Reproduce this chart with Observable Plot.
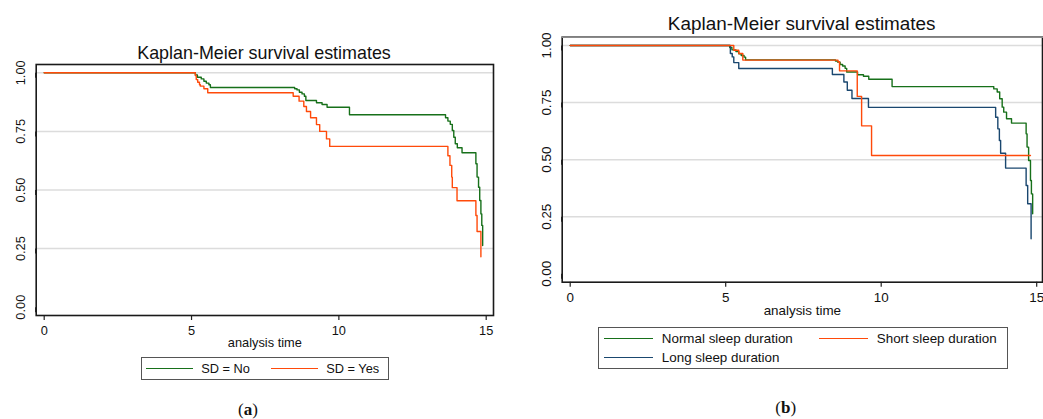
<!DOCTYPE html>
<html><head><meta charset="utf-8">
<script src="https://cdn.jsdelivr.net/npm/d3@7"></script>
<script src="https://cdn.jsdelivr.net/npm/@observablehq/plot@0.6"></script>
<style>
body{margin:0;background:#fff;width:1043px;height:419px;overflow:hidden;position:relative;font-family:"Liberation Sans",Arial,sans-serif;color:#111}
.abs{position:absolute}
.title{white-space:nowrap;transform:translate(-50%,-50%)}
.legend{border:1.5px solid #555;box-sizing:border-box}
.sw{position:absolute;height:0;border-top:1.4px solid}
.lt{position:absolute;white-space:nowrap;transform:translateY(-50%);line-height:1}
.cap{font-family:"Liberation Serif","DejaVu Serif",serif;font-size:17px;transform:translate(-50%,-50%);white-space:nowrap}
</style>
</head><body>
<div id="a" class="abs" style="left:0;top:60px"></div>
<div id="b" class="abs" style="left:520px;top:0"></div>
<div id="ta" class="abs title" style="left:264px;top:53px;font-size:17.9px"></div>
<div id="tb" class="abs title" style="left:801.7px;top:23.5px;font-size:18.9px"></div>
<div id="la" class="abs legend" style="left:140.7px;top:356.7px;width:248px;height:23.5px"></div>
<div id="lb" class="abs legend" style="left:597.7px;top:326.7px;width:410px;height:42.8px"></div>
<div class="abs cap" style="left:248px;top:410px">(<b>a</b>)</div>
<div class="abs cap" style="left:785.7px;top:408px">(<b>b</b>)</div>
<script>
// ---- data ----
const titleText = "Kaplan-Meier survival estimates";
const xLabel = "analysis time";
const xTicks = [0, 5, 10, 15];
const yTicks = [0, 0.25, 0.5, 0.75, 1];
const gridTicks = [0.25, 0.5, 0.75, 1];

// Panel (a)
const seriesA = ["SD = No", "SD = Yes"];
const sdNoTime = [0, 5.13, 5.20, 5.33, 5.42, 5.50, 5.59, 5.64, 8.50, 8.58, 8.66, 8.75, 8.83, 8.88, 9.24, 9.43, 9.60, 10.36, 13.62, 13.70, 13.78, 13.85, 13.90, 13.95, 14.02, 14.18, 14.65, 14.69, 14.74, 14.78, 14.82, 14.85, 14.88];
const sdNoSurv = [1, 0.991, 0.981, 0.974, 0.964, 0.956, 0.949, 0.937, 0.932, 0.927, 0.917, 0.910, 0.900, 0.882, 0.872, 0.865, 0.853, 0.821, 0.808, 0.794, 0.780, 0.754, 0.725, 0.697, 0.680, 0.659, 0.612, 0.555, 0.512, 0.455, 0.398, 0.349, 0.263];
const sdYesTime = [0, 5.13, 5.16, 5.21, 5.27, 5.30, 5.42, 5.55, 8.45, 8.65, 8.81, 8.90, 9.04, 9.24, 9.35, 9.58, 9.69, 13.70, 13.77, 13.83, 13.85, 14.01, 14.65, 14.69, 14.82];
const sdYesSurv = [1, 0.988, 0.971, 0.960, 0.949, 0.943, 0.932, 0.915, 0.900, 0.879, 0.856, 0.835, 0.808, 0.779, 0.750, 0.718, 0.686, 0.646, 0.605, 0.555, 0.510, 0.454, 0.391, 0.323, 0.215];

// Panel (b)
const seriesB = ["Normal sleep duration", "Short sleep duration", "Long sleep duration"];
const normalTime = [0, 5.13, 5.20, 5.33, 5.42, 5.50, 5.59, 5.64, 8.53, 8.60, 8.68, 8.76, 8.84, 8.89, 9.24, 9.43, 9.60, 10.35, 13.62, 13.73, 13.81, 13.89, 13.94, 14.03, 14.19, 14.66, 14.69, 14.74, 14.80, 14.83, 14.87];
const normalSurv = [1, 0.991, 0.981, 0.974, 0.964, 0.956, 0.949, 0.937, 0.932, 0.927, 0.917, 0.910, 0.900, 0.884, 0.872, 0.865, 0.852, 0.820, 0.810, 0.796, 0.767, 0.730, 0.708, 0.679, 0.660, 0.613, 0.555, 0.496, 0.409, 0.350, 0.263];
const shortTime = [0, 5.26, 5.42, 5.55, 8.61, 8.66, 9.23, 9.37, 9.69, 14.80];
const shortSurv = [1, 0.979, 0.965, 0.936, 0.929, 0.889, 0.777, 0.648, 0.518, 0.518];
const longTime = [0, 5.15, 5.21, 5.26, 5.42, 8.43, 8.80, 8.91, 9.06, 9.59, 13.68, 13.75, 13.80, 13.84, 14.00, 14.66, 14.71, 14.82];
const longSurv = [1, 0.965, 0.950, 0.925, 0.899, 0.873, 0.840, 0.804, 0.768, 0.729, 0.686, 0.635, 0.584, 0.528, 0.463, 0.387, 0.307, 0.153];

const colorsA = ["#17701a", "#ff4a0a"];
const colorsB = ["#17701a", "#ff4a0a", "#1a476f"];

const toRows = (ts, ss) => ts.map((t, i) => ({t, s: ss[i]}));

function panel({width, height, mt, mb, ml, mr, insL, insR, insT, insB, fs, lines, topStroke, labelOffset}) {
  return Plot.plot({
    width, height,
    marginTop: mt, marginBottom: mb, marginLeft: ml, marginRight: mr,
    style: {fontFamily: '"Liberation Sans", Arial, sans-serif', fontSize: fs + "px", color: "#111", background: "transparent"},
    x: {domain: [0, 15], insetLeft: insL, insetRight: insR},
    y: {domain: [0, 1], insetTop: insT, insetBottom: insB},
    marks: [
      Plot.gridY(gridTicks, {stroke: "#dcdcdc", strokeOpacity: 1, strokeWidth: 1.5}),
      ...lines.map(l => Plot.line(l.data, {x: "t", y: "s", curve: "step-after", stroke: l.color, strokeWidth: 1.4})),
      Plot.axisX(xTicks, {tickSize: 5, tickPadding: 5, fontSize: fs, label: xLabel, labelAnchor: "center", labelArrow: "none", labelOffset, stroke: "#222", strokeWidth: 1.2}),
      Plot.axisY(yTicks, {tickSize: 5, tickPadding: 10, rotate: -90, textAnchor: "middle", fontSize: fs, tickFormat: d3.format(".2f"), label: null, stroke: "#222", strokeWidth: 1.2}),
      Plot.frame({stroke: "#1a1a1a", strokeWidth: 1.6}),
      ...(topStroke ? [Plot.frame({anchor: "top", stroke: topStroke, strokeWidth: 1.6})] : [])
    ]
  });
}

document.getElementById("a").append(panel({
  width: 520, height: 300, mt: 4, mb: 45, ml: 35.7, mr: 27,
  insL: 8, insR: 7.3, insT: 8.3, insB: 8.3, fs: 12.8, labelOffset: 31,
  lines: [
    {data: toRows(sdNoTime, sdNoSurv), color: colorsA[0]},
    {data: toRows(sdYesTime, sdYesSurv), color: colorsA[1]}
  ]
}));
document.getElementById("b").append(panel({
  width: 523, height: 330, mt: 36.7, mb: 48.3, ml: 41.7, mr: 1,
  insL: 8, insR: 5.8, insT: 8.3, insB: 8.4, fs: 13.4, labelOffset: 33,
  topStroke: "#8a8a8a",
  lines: [
    {data: toRows(normalTime, normalSurv), color: colorsB[0]},
    {data: toRows(longTime, longSurv), color: colorsB[2]},
    {data: toRows(shortTime, shortSurv), color: colorsB[1]}
  ]
}));

document.getElementById("ta").textContent = titleText;
document.getElementById("tb").textContent = titleText;

function legend(el, fs, items) {
  const box = el.getBoundingClientRect();
  for (const it of items) {
    const sw = document.createElement("div");
    sw.className = "sw";
    sw.style.left = (it.x0 - box.left - 1.5) + "px";
    sw.style.width = (it.x1 - it.x0) + "px";
    sw.style.top = (it.y - box.top - 1.5 - 0.7) + "px";
    sw.style.borderColor = it.color;
    el.append(sw);
    const tx = document.createElement("div");
    tx.className = "lt";
    tx.style.left = (it.tx - box.left - 1.5) + "px";
    tx.style.top = (it.y - box.top - 1.5) + "px";
    tx.style.fontSize = fs + "px";
    tx.textContent = it.label;
    el.append(tx);
  }
}
legend(document.getElementById("la"), 12.8, [
  {label: seriesA[0], color: colorsA[0], x0: 146.7, x1: 193.3, tx: 201.7, y: 369},
  {label: seriesA[1], color: colorsA[1], x0: 271.7, x1: 318.3, tx: 326.7, y: 369}
]);
legend(document.getElementById("lb"), 13.4, [
  {label: seriesB[0], color: colorsB[0], x0: 604, x1: 653.3, tx: 662.3, y: 339},
  {label: seriesB[1], color: colorsB[1], x0: 819, x1: 868.3, tx: 877.3, y: 339},
  {label: seriesB[2], color: colorsB[2], x0: 604, x1: 653.3, tx: 662.3, y: 358.3}
]);
</script>
</body></html>
